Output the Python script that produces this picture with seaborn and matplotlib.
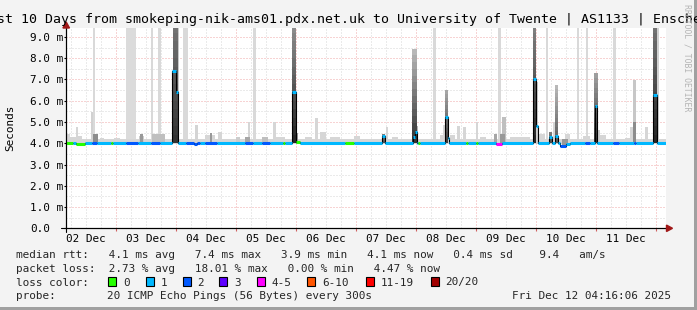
import numpy as np
import pandas as pd
import matplotlib
matplotlib.use("Agg")
import matplotlib.pyplot as plt
import seaborn as sns
from matplotlib.patches import Rectangle, Polygon

# ---------------- data (time = hours since 2025-12-02 00:00, values in ms) -------------
t_start, t_end = 4.28, 244.28
day_labels = ["02 Dec", "03 Dec", "04 Dec", "05 Dec", "06 Dec",
              "07 Dec", "08 Dec", "09 Dec", "10 Dec", "11 Dec"]
ytick_labels = ["0.0", "1.0 m", "2.0 m", "3.0 m", "4.0 m", "5.0 m",
                "6.0 m", "7.0 m", "8.0 m", "9.0 m"]

# median rtt (step series)
med_h = [4.28, 8.2, 11.8, 28.2, 33.0, 46.6, 48.2, 48.8, 55.4, 56.6, 94.6, 96.2, 97.8,
         130.6, 131.8, 143.0, 143.8, 144.6, 155.8, 156.8, 157.4, 176.2, 178.6,
         191.0, 192.2, 192.8, 197.4, 198.6, 199.8, 201.0, 201.8, 204.2, 205.8,
         215.6, 216.6, 239.0, 240.4]
med_v = [4.03, 3.98, 4.03, 4.00, 4.03, 7.40, 6.40, 4.03, 3.96, 4.03, 6.42, 4.08, 4.03,
         4.35, 4.03, 4.30, 4.53, 4.03, 5.24, 4.27, 4.03, 3.97, 4.03,
         7.00, 4.80, 4.03, 4.30, 4.03, 4.33, 4.03, 3.88, 3.95, 4.03,
         5.75, 4.03, 6.27, 4.03]

# packet-loss class of the median (index into loss_labels), step series
loss_h = [4.28, 7.0, 8.2, 11.8, 14.6, 16.6, 22.2, 23.0, 28.2, 33.0, 38.2, 41.8, 52.2,
          57.8, 59.8, 64.6, 75.8, 79.0, 82.6, 85.8, 91.0, 91.8, 96.2, 97.8, 115.8,
          119.4, 145.0, 145.8, 164.2, 165.0, 168.2, 169.0, 176.2, 178.6, 201.8,
          204.2, 211.8, 213.8, 223.0, 225.4, 231.4, 232.2]
loss_cls = [0, 1, 0, 1, 2, 1, 0, 1, 2, 1, 2, 1, 2,
            1, 2, 1, 2, 1, 2, 1, 0, 1, 0, 1, 0,
            1, 0, 1, 0, 1, 0, 1, 4, 1, 2,
            1, 2, 1, 2, 1, 2, 1]
loss_labels = ["0", "1", "2", "3", "4-5", "6-10", "11-19", "20/20"]
loss_colors = ["#26ff00", "#00b8ff", "#0059ff", "#5e00ff", "#ff00ff",
               "#ff5500", "#ff0000", "#a10000"]

# smoke (ping spread): start, end, low, high, grey level
smoke_h0 = [4.28, 4.4, 5.8, 8.2, 9.0, 14.2, 14.88, 15.0, 17.8, 23.4, 28.2, 33.4, 33.8,
            38.08, 38.6, 41.0, 48.6, 51.12, 55.8, 59.8, 61.8, 65.0, 72.2, 75.8, 77.0,
            79.0, 82.6, 86.88, 88.2, 96.2, 99.8, 103.8, 105.8, 109.8, 119.4, 132.2,
            134.6, 144.4, 150.88, 153.8, 155.0, 157.8, 160.6, 163.0, 168.2, 169.8,
            175.4, 177.0, 177.8, 178.6, 181.8, 192.2, 193.0, 196.2, 199.0, 202.6,
            203.8, 208.48, 211.0, 212.2, 216.8, 217.8, 223.0, 227.8, 229.8, 231.0,
            231.0, 235.8, 240.48]
smoke_h1 = [244.28, 5.8, 8.2, 9.0, 10.6, 15.0, 15.92, 17.0, 19.4, 25.8, 32.2, 35.4, 34.88,
            39.12, 43.8, 42.08, 49.2, 52.88, 56.8, 63.8, 62.6, 66.6, 73.8, 77.8, 77.8,
            80.2, 85.0, 88.2, 91.8, 97.0, 102.6, 105.0, 108.2, 113.8, 121.8, 133.0,
            137.0, 145.0, 152.2, 155.8, 155.8, 159.8, 161.8, 164.2, 169.0, 172.2,
            176.6, 178.2, 179.8, 180.2, 189.8, 193.12, 195.8, 197.0, 199.8, 205.0,
            205.8, 209.28, 213.8, 213.0, 217.8, 220.2, 224.2, 230.6, 231.0, 232.2,
            232.2, 237.0, 241.4]
smoke_lo = [3.97] * 55 + [3.85] + [3.97] * 13
smoke_hi = [4.18, 4.45, 4.30, 4.77, 4.34, 5.48, 9.6, 4.45, 4.23, 4.24, 9.6, 4.35, 4.45,
            9.6, 4.45, 9.6, 9.6, 9.6, 4.85, 4.40, 4.50, 4.55, 4.30, 4.30, 5.00,
            9.6, 4.30, 5.00, 4.30, 4.50, 4.30, 5.17, 4.55, 4.30, 4.35, 4.77,
            4.30, 4.80, 9.6, 4.40, 4.85, 4.40, 4.80, 4.77, 5.00, 4.30,
            4.45, 9.6, 4.45, 5.25, 4.28, 6.90, 4.45, 9.6, 5.00, 4.20,
            4.45, 9.6, 4.35, 9.6, 4.60, 4.38, 9.6, 4.25, 4.77, 6.97,
            5.00, 4.77, 9.6]
smoke_grey = [0.84, 0.84, 0.84, 0.84, 0.84, 0.82, 0.85, 0.55, 0.84, 0.84, 0.86, 0.80, 0.60,
              0.85, 0.75, 0.85, 0.78, 0.85, 0.83, 0.84, 0.60, 0.84, 0.80, 0.65, 0.84,
              0.85, 0.75, 0.84, 0.84, 0.60, 0.84, 0.84, 0.84, 0.84, 0.84, 0.84,
              0.84, 0.70, 0.85, 0.84, 0.84, 0.84, 0.84, 0.84, 0.84, 0.84,
              0.65, 0.85, 0.60, 0.75, 0.84, 0.80, 0.84, 0.85, 0.84, 0.60,
              0.84, 0.85, 0.84, 0.85, 0.80, 0.84, 0.85, 0.84, 0.84, 0.78,
              0.55, 0.84, 0.82]

# dense smoke at latency spikes: start, end, top, grey at bottom, grey at top
spike_h0 = [46.8, 94.6, 130.6, 142.6, 155.8, 191.0, 197.4, 199.8, 215.4, 239.0]
spike_h1 = [48.8, 96.2, 131.8, 144.4, 157.2, 192.2, 198.6, 201.0, 216.8, 240.48]
spike_top = [9.6, 9.6, 4.45, 8.45, 6.50, 9.6, 4.55, 6.74, 7.30, 9.6]
spike_dark = [0.20, 0.15, 0.30, 0.20, 0.25, 0.15, 0.30, 0.35, 0.20, 0.15]
spike_light = [0.45, 0.55, 0.50, 0.72, 0.65, 0.50, 0.50, 0.72, 0.62, 0.45]

title = "Last 10 Days from smokeping-nik-ams01.pdx.net.uk to University of Twente | AS1133 | Enschede"
med_avg, med_max, med_min, med_now, med_sd, am_s = 4.1, 7.4, 3.9, 4.1, 0.4, 9.4
loss_avg, loss_max, loss_min, loss_now = 2.73, 18.01, 0.00, 4.47
probe_text = "20 ICMP Echo Pings (56 Bytes) every 300s"
stamp_text = "Fri Dec 12 04:16:06 2025"

# ---------------- drawing ---------------------------------------------------------------
sns.set_theme(style="white")
plt.rcParams["font.family"] = ["DejaVu Sans Mono", "DejaVu Sans"]
W, H = 697, 310
BG = "#f3f3f3"
fig = plt.figure(figsize=(W / 100, H / 100), dpi=100, facecolor=BG)
ax = fig.add_axes([66.2 / W, (H - 228.3) / H, 600 / W, 200.3 / H])
ax.set_facecolor("white")
ax.set_xlim(t_start, t_end)
ax.set_ylim(0, 9.42)

# grid
mgrid = "#f0a8a8"
ngrid = "#d6d6d6"
dot = (0, (1, 2))
for hh in np.arange(6, t_end, 6):
    if hh % 24 != 0:
        ax.axvline(hh, color=ngrid, lw=0.72, ls=dot, zorder=0.5)
for hh in np.arange(24, t_end, 24):
    ax.axvline(hh, color=mgrid, lw=0.72, ls=dot, zorder=0.6)
for yy in np.arange(0.5, 9.5, 1.0):
    ax.axhline(yy, color=ngrid, lw=0.72, ls=dot, zorder=0.5)
for yy in range(1, 10):
    ax.axhline(yy, color=mgrid, lw=0.72, ls=dot, zorder=0.6)

# smoke
order = np.argsort(-np.array(smoke_grey), kind="stable")
for i in order:
    g = smoke_grey[i]
    ax.bar(smoke_h0[i], smoke_hi[i] - smoke_lo[i], width=smoke_h1[i] - smoke_h0[i],
           bottom=smoke_lo[i], align="edge", color=(g, g, g), linewidth=0, zorder=1)
for i in range(len(spike_h0)):
    n = 14
    edges = np.linspace(4.0, spike_top[i], n + 1)
    for k in range(n):
        g = spike_dark[i] + (spike_light[i] - spike_dark[i]) * k / (n - 1)
        ax.bar(spike_h0[i], edges[k + 1] - edges[k], width=spike_h1[i] - spike_h0[i],
               bottom=edges[k], align="edge", color=(g, g, g), linewidth=0, zorder=1.2)

# median: thin black step line + loss-coloured horizontal strokes
step_df = pd.DataFrame({"t": med_h + [t_end], "v": med_v + [med_v[-1]]})
sns.lineplot(data=step_df, x="t", y="v", drawstyle="steps-post", color="black",
             linewidth=0.8, estimator=None, sort=False, ax=ax, zorder=2)
bps = sorted(set(med_h + loss_h + [t_end]))
segs_x0, segs_x1, segs_v, segs_c = [], [], [], []
for a, b in zip(bps[:-1], bps[1:]):
    v = med_v[np.searchsorted(med_h, a, side="right") - 1]
    c = loss_cls[np.searchsorted(loss_h, a, side="right") - 1]
    segs_x0.append(a); segs_x1.append(b); segs_v.append(v); segs_c.append(loss_colors[c])
ax.hlines(segs_v, segs_x0, segs_x1, colors=segs_c, linewidth=2.2, zorder=3,
          capstyle="butt")

# axes
for s in ["top", "right"]:
    ax.spines[s].set_visible(False)
for s in ["left", "bottom"]:
    ax.spines[s].set_color("black")
    ax.spines[s].set_linewidth(0.8)
ax.plot([-0.008, 1.0], [0, 0], transform=ax.transAxes, color="black", lw=0.8,
        clip_on=False, zorder=5)
ax.plot([0, 0], [-0.02, 1.0], transform=ax.transAxes, color="black", lw=0.8,
        clip_on=False, zorder=5)
arrow_c = "#a01818"
ax.add_patch(Polygon([[1.0005, 0.016], [1.0005, -0.016], [1.0105, 0]], closed=True,
                     transform=ax.transAxes, color=arrow_c, clip_on=False, zorder=6))
ax.add_patch(Polygon([[-0.0055, 1.0], [0.0055, 1.0], [0, 1.03]], closed=True,
                     transform=ax.transAxes, color=arrow_c, clip_on=False, zorder=6))

fs = 7.9
ax.set_yticks(range(10))
ax.set_yticklabels(ytick_labels, fontsize=fs, color="black")
for t in ax.get_yticklabels():
    t.set_ha("left")
ax.tick_params(axis="y", length=1.5, width=0.8, direction="out", pad=24.5,
               colors="black", left=True)
ax.set_xticks([12 + 24 * k for k in range(len(day_labels))])
ax.set_xticklabels(day_labels, fontsize=fs, color="black")
ax.tick_params(axis="x", which="major", length=0, pad=4.0, colors="black")
ax.set_xticks(np.arange(24, t_end, 24), minor=True)
ax.tick_params(axis="x", which="minor", length=2, width=0.8, color="#d06060",
               direction="out", bottom=True)
ax.set_xlabel("")
ax.set_ylabel("")

# texts
def fx(px):
    return px / W

def fy(py):
    return 1 - py / H

fig.text(fx(348.9), fy(23.3), title, ha="center", va="baseline", fontsize=9.5,
         color="black")
fig.text(fx(10.5), fy(128), "Seconds", rotation=90, ha="center", va="center",
         fontsize=fs, color="black")
fig.text(fx(687), fy(4), "RRDTOOL / TOBI OETIKER", rotation=270, ha="center",
         va="top", fontsize=5.9, color="#b4b4b4")

line1 = (f"median rtt:   {med_avg:.1f} ms avg   {med_max:.1f} ms max   {med_min:.1f} ms min"
         f"   {med_now:.1f} ms now   {med_sd:.1f} ms sd    {am_s:.1f}   am/s")
line2 = (f"packet loss:  {loss_avg:.2f} % avg   {loss_max:.2f} % max   {loss_min:.2f} % min"
         f"   {loss_now:.2f} % now")
fig.text(fx(16), fy(257.7), line1, ha="left", va="baseline", fontsize=fs)
fig.text(fx(16), fy(271.6), line2, ha="left", va="baseline", fontsize=fs)
fig.text(fx(16), fy(285.5), "loss color:", ha="left", va="baseline", fontsize=fs)
sq_x = [108.3, 145.7, 182.7, 219.3, 256.7, 307.3, 365.7, 430.7]
for xpx, lab, col in zip(sq_x, loss_labels, loss_colors):
    fig.add_artist(Rectangle((fx(xpx), fy(286)), 8 / W, 9 / H, transform=fig.transFigure,
                             facecolor=col, edgecolor="black", linewidth=0.8))
    fig.text(fx(xpx + 14.5), fy(285.5), lab, ha="left", va="baseline", fontsize=fs)
fig.text(fx(16), fy(299.4), "probe:", ha="left", va="baseline", fontsize=fs)
fig.text(fx(107.3), fy(299.4), probe_text, ha="left", va="baseline", fontsize=fs)
fig.text(fx(512), fy(299.4), stamp_text, ha="left", va="baseline", fontsize=fs)

# frame shading
fig.add_artist(Rectangle((0, 0), 1, 3 / H, transform=fig.transFigure,
                         facecolor="#a0a0a0", edgecolor="none"))
fig.add_artist(Rectangle((1 - 3 / W, 0), 3 / W, 1, transform=fig.transFigure,
                         facecolor="#a0a0a0", edgecolor="none"))

fig.savefig("out.png", dpi=100, facecolor=BG)
